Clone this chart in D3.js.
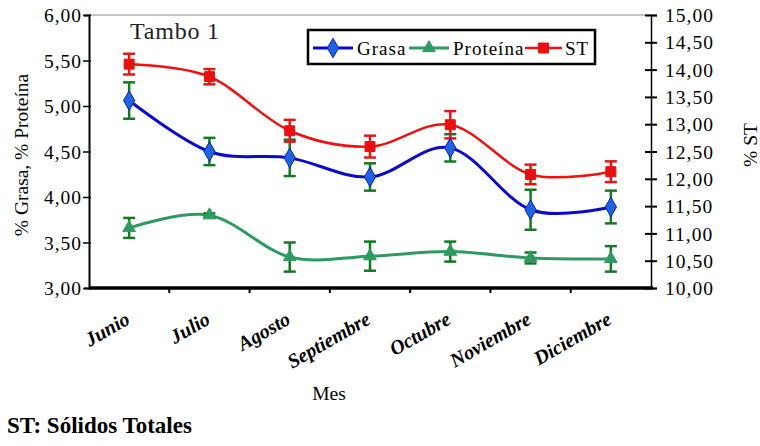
<!DOCTYPE html>
<html>
<head>
<meta charset="utf-8">
<script src="https://cdn.jsdelivr.net/npm/d3@7"></script>
<style>
  html, body { margin: 0; padding: 0; background: #fff; }
  svg { display: block; }
  svg text { font-family: "Liberation Serif", "DejaVu Serif", serif; }
</style>
</head>
<body>
<svg id="chart" width="760" height="446"></svg>
<script>
// ---- data ----
const months = ["Junio", "Julio", "Agosto", "Septiembre", "Octubre", "Noviembre", "Diciembre"];
const grasa = [5.06, 4.50, 4.43, 4.22, 4.54, 3.86, 3.89];
const grasaErr = [0.20, 0.15, 0.20, 0.15, 0.15, 0.22, 0.18];
const proteina = [3.66, 3.80, 3.34, 3.35, 3.40, 3.33, 3.32];
const proteinaErr = [0.11, 0.02, 0.16, 0.16, 0.11, 0.06, 0.14];
const st = [14.10, 13.87, 12.88, 12.59, 12.99, 12.08, 12.13];
const stErr = [0.19, 0.14, 0.20, 0.20, 0.25, 0.18, 0.19];
const leftTicks = [3.0, 3.5, 4.0, 4.5, 5.0, 5.5, 6.0];
const rightTicks = [10.0, 10.5, 11.0, 11.5, 12.0, 12.5, 13.0, 13.5, 14.0, 14.5, 15.0];

const fmt = v => v.toFixed(2).replace(".", ",");
const SERIF = '"Liberation Serif", "DejaVu Serif", serif';

const svg = d3.select("#chart");
const L = 89, R = 651, T = 15, B = 288;

const x = d3.scaleBand().domain(months).range([L, R]);
const cx = m => x(m) + x.bandwidth() / 2;
const yL = d3.scaleLinear().domain([3, 6]).range([B, T]);
const yR = d3.scaleLinear().domain([10, 15]).range([B, T]);

// top border
svg.append("line").attr("x1", L).attr("x2", R).attr("y1", T).attr("y2", T)
  .attr("stroke", "#888").attr("stroke-width", 1);

// left axis
const gL = svg.append("g").attr("transform", `translate(${L},0)`)
  .call(d3.axisLeft(yL).tickValues(leftTicks).tickFormat(fmt).tickSize(5).tickPadding(2));
gL.attr("font-family", SERIF);
gL.select(".domain").attr("stroke", "#000").attr("stroke-width", 2);
gL.selectAll(".tick line").attr("stroke", "#000").attr("stroke-width", 1.5).attr("x2", -6).attr("x1", 2);
gL.selectAll(".tick text").attr("font-size", 19.5)
  .attr("letter-spacing", 1).attr("fill", "#000").attr("dy", "0.34em");

// right axis
const gR = svg.append("g").attr("transform", `translate(${R},0)`)
  .call(d3.axisRight(yR).tickValues(rightTicks).tickFormat(fmt).tickSize(6).tickPadding(8));
gR.attr("font-family", SERIF);
gR.select(".domain").attr("stroke", "#000").attr("stroke-width", 1.5);
gR.selectAll(".tick line").attr("stroke", "#000").attr("stroke-width", 2).attr("x1", -6).attr("x2", 6);
gR.selectAll(".tick text").attr("font-size", 19.5)
  .attr("letter-spacing", 1).attr("fill", "#000").attr("dy", "0.34em");

// bottom axis
const gB = svg.append("g").attr("transform", `translate(0,${B})`);
gB.append("line").attr("x1", L).attr("x2", R + 2).attr("stroke", "#000").attr("stroke-width", 3.5);
gB.selectAll("line.tk").data(months.slice(1)).enter().append("line").attr("class", "tk")
  .attr("x1", d => x(d)).attr("x2", d => x(d)).attr("y1", 0).attr("y2", 5)
  .attr("stroke", "#000").attr("stroke-width", 2);
gB.selectAll("text.xl").data(months).enter().append("text").attr("class", "xl")
  .attr("transform", d => `translate(${cx(d) + 2},${35}) rotate(-30)`)
  .attr("text-anchor", "end")
  .attr("font-style", "italic").attr("font-weight", "bold")
  .attr("font-size", 20).attr("fill", "#000")
  .text(d => d);

// axis titles
svg.append("text").attr("transform", "translate(28,155) rotate(-90)")
  .attr("text-anchor", "middle").attr("font-size", 19.5).attr("fill", "#000")
  .text("% Grasa, % Proteína");
svg.append("text").attr("transform", "translate(757,145) rotate(-90)")
  .attr("text-anchor", "middle").attr("font-size", 19.5).attr("fill", "#000")
  .text("% ST");
svg.append("text").attr("x", 329).attr("y", 400).attr("text-anchor", "middle")
  .attr("font-size", 19.5).attr("fill", "#000").text("Mes");
svg.append("text").attr("x", 7).attr("y", 433).attr("font-size", 23).attr("font-weight", "bold")
  .attr("fill", "#000").text("ST: Sólidos Totales");
svg.append("text").attr("x", 130).attr("y", 39).attr("font-size", 24).attr("letter-spacing", 0.8)
  .attr("fill", "#222").text("Tambo 1");

// series
const series = [
  { name: "Grasa", vals: grasa, err: grasaErr, y: yL, line: "#0a0acc", errColor: "#137a22", mk: d3.symbolDiamond, mkSize: 110, fill: "#1f63e0", mkStroke: "#0a20b0", w: 3 },
  { name: "Proteína", vals: proteina, err: proteinaErr, y: yL, line: "#2e9a62", errColor: "#137a22", mk: d3.symbolTriangle, mkSize: 70, fill: "#2e9a62", mkStroke: "#2e9a62", w: 3 },
  { name: "ST", vals: st, err: stErr, y: yR, line: "#f01010", errColor: "#e01818", mk: d3.symbolSquare, mkSize: 100, fill: "#e81010", mkStroke: "#e81010", w: 2.5 }
];

const lineGen = (s) => d3.line().curve(d3.curveCardinal.tension(0))
  .x((d, i) => cx(months[i])).y(d => s.y(d));

series.forEach(s => {
  svg.append("path").attr("d", lineGen(s)(s.vals)).attr("fill", "none")
    .attr("stroke", s.line).attr("stroke-width", s.w);
});
series.forEach(s => {
  const g = svg.append("g");
  s.vals.forEach((v, i) => {
    const xx = cx(months[i]);
    const y1 = s.y(v + s.err[i]), y2 = s.y(v - s.err[i]);
    g.append("line").attr("x1", xx).attr("x2", xx).attr("y1", y1).attr("y2", y2)
      .attr("stroke", s.errColor).attr("stroke-width", 2.5);
    [y1, y2].forEach(yy => g.append("line").attr("x1", xx - 6).attr("x2", xx + 6)
      .attr("y1", yy).attr("y2", yy).attr("stroke", s.errColor).attr("stroke-width", 2.5));
  });
});
series.forEach(s => {
  svg.append("g").selectAll("path").data(s.vals).enter().append("path")
    .attr("d", d3.symbol().type(s.mk).size(s.mkSize))
    .attr("transform", (d, i) => `translate(${cx(months[i])},${s.y(d)})`)
    .attr("fill", s.fill).attr("stroke", s.mkStroke).attr("stroke-width", 1);
});

// legend
const lg = svg.append("g");
lg.append("rect").attr("x", 308).attr("y", 30).attr("width", 287).attr("height", 34)
  .attr("fill", "#fff").attr("stroke", "#000").attr("stroke-width", 2.5);
const legendItems = [
  { s: series[0], x0: 313, x1: 353, tx: 357 },
  { s: series[1], x0: 409, x1: 449, tx: 453 },
  { s: series[2], x0: 525, x1: 562, tx: 565 }
];
legendItems.forEach(it => {
  lg.append("line").attr("x1", it.x0).attr("x2", it.x1).attr("y1", 48).attr("y2", 48)
    .attr("stroke", it.s.line).attr("stroke-width", it.s.w);
  lg.append("path").attr("d", d3.symbol().type(it.s.mk).size(it.s.mkSize))
    .attr("transform", `translate(${(it.x0 + it.x1) / 2},48)`)
    .attr("fill", it.s.fill).attr("stroke", it.s.mkStroke).attr("stroke-width", 1);
  lg.append("text").attr("x", it.tx).attr("y", 55).attr("font-size", 19)
    .attr("letter-spacing", 1).attr("fill", "#000").text(it.s.name);
});
</script>
</body>
</html>
